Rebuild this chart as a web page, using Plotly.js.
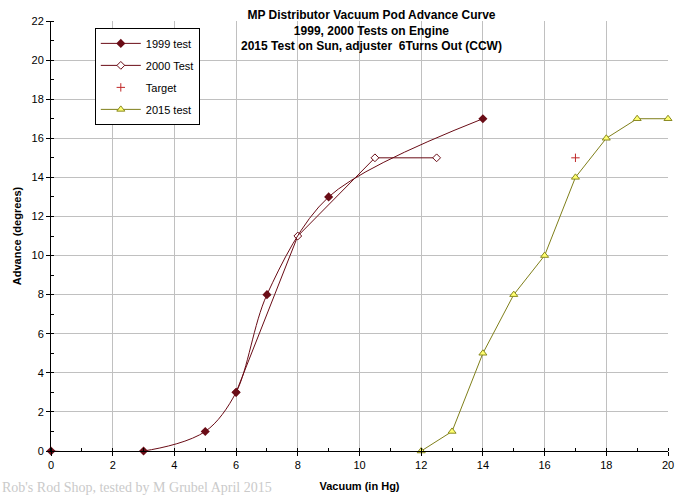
<!DOCTYPE html>
<html>
<head>
<meta charset="utf-8">
<script src="https://cdn.plot.ly/plotly-3.0.1.min.js"></script>
<style>
  body { margin: 0; background: #fff; }
  #chart { width: 680px; height: 498px; }
</style>
</head>
<body>
<div id="chart"></div>
<script>
// vacuum advance curve data
const vac1999 = [0, 3, 5, 6, 7, 9, 14];
const adv1999 = [0, 0, 1, 3, 8, 13, 17];

const vac2000 = [6, 8, 10.5, 12.5];
const adv2000 = [3, 11, 15, 15];

const vacTarget = [17];
const advTarget = [15];

const vac2015 = [12, 13, 14, 15, 16, 17, 18, 19, 20];
const adv2015 = [0, 1, 5, 8, 10, 14, 16, 17, 17];

const xTicks = [0, 2, 4, 6, 8, 10, 12, 14, 16, 18, 20];
const yTicks = [0, 2, 4, 6, 8, 10, 12, 14, 16, 18, 20, 22];

const maroon = '#6a0c16';

// 2000 goes first so the filled 1999 diamond at 6 sits on top of it
const t2000 = {
    x: vac2000, y: adv2000, name: '2000 Test', legendrank: 2, legendgroup: 'b',
    mode: 'lines+markers', cliponaxis: false,
    line: {color: maroon, width: 1},
    marker: {symbol: 'diamond', size: 6, color: '#ffffff', line: {color: maroon, width: 1}}
};
const t1999 = {
    x: vac1999, y: adv1999, name: '1999 test', legendrank: 1, legendgroup: 'a',
    mode: 'lines+markers', cliponaxis: false,
    line: {color: maroon, width: 1, shape: 'spline', smoothing: 0.9},
    marker: {symbol: 'diamond', size: 7, color: maroon}
};
const tTarget = {
    x: vacTarget, y: advTarget, name: 'Target', legendrank: 3, legendgroup: 'c',
    mode: 'markers', cliponaxis: false,
    marker: {symbol: 'cross-thin', size: 6, color: '#c02828', line: {color: '#c02828', width: 1}}
};
const t2015 = {
    x: vac2015, y: adv2015, name: '2015 test', legendrank: 4, legendgroup: 'd',
    mode: 'lines+markers', cliponaxis: false,
    line: {color: '#7f7f1a', width: 1},
    marker: {symbol: 'triangle-up', size: 7, color: '#ffff70', line: {color: '#8a8a20', width: 1}}
};

const axisFont = {family: 'Liberation Sans, Arial, sans-serif', size: 11, color: '#000'};
const boldFont = {family: 'Liberation Sans, Arial, sans-serif', size: 11, color: '#000', weight: 'bold'};

const layout = {
    width: 680, height: 498,
    margin: {l: 51, r: 12, t: 21, b: 47},
    paper_bgcolor: '#fff', plot_bgcolor: '#fff',
    font: axisFont,
    showlegend: true,
    legend: {
        x: 0.071, y: 0.984, xanchor: 'left', yanchor: 'top',
        bgcolor: '#fff', bordercolor: '#000', borderwidth: 1,
        font: axisFont, traceorder: 'grouped', tracegroupgap: 3, itemwidth: 40
    },
    xaxis: {
        range: [0, 20], tickvals: xTicks, ticktext: xTicks.map(String),
        showgrid: true, gridcolor: '#c0c0c0', gridwidth: 1,
        showline: true, linecolor: '#000', linewidth: 1,
        zeroline: false, ticks: 'outside', ticklen: 4, tickcolor: '#000',
        minor: {dtick: 1, tick0: 0, ticks: 'inside', ticklen: 3, tickcolor: '#000', showgrid: false},
        tickfont: axisFont,
        title: {text: 'Vacuum (in Hg)', font: boldFont, standoff: 12}
    },
    yaxis: {
        range: [0, 22], tickvals: yTicks, ticktext: yTicks.map(String),
        showgrid: true, gridcolor: '#c0c0c0', gridwidth: 1,
        showline: true, linecolor: '#000', linewidth: 1,
        zeroline: false, ticks: 'outside', ticklen: 4, tickcolor: '#000',
        minor: {dtick: 1, tick0: 0, ticks: 'inside', ticklen: 3, tickcolor: '#000', showgrid: false},
        tickfont: axisFont,
        title: {text: 'Advance (degrees)', font: boldFont, standoff: 7}
    },
    annotations: [
        {
            text: 'MP Distributor Vacuum Pod Advance Curve<br>1999, 2000 Tests on Engine<br>2015 Test on Sun, adjuster  6Turns Out (CCW)',
            xref: 'paper', yref: 'paper', x: 0.52, y: 1.035, xanchor: 'center', yanchor: 'top',
            showarrow: false, align: 'center',
            font: {family: 'Liberation Sans, Arial, sans-serif', size: 12, color: '#000', weight: 'bold'}
        },
        {
            text: "Rob's Rod Shop, tested by M Grubel April 2015",
            xref: 'paper', yref: 'paper', x: -0.083, y: -0.086, xanchor: 'left', yanchor: 'middle',
            showarrow: false,
            font: {family: 'Liberation Serif, Times New Roman, serif', size: 14, color: '#cacaca'}
        }
    ]
};

Plotly.newPlot('chart', [t2000, t1999, tTarget, t2015], layout, {displayModeBar: false, staticPlot: true});
</script>
</body>
</html>
